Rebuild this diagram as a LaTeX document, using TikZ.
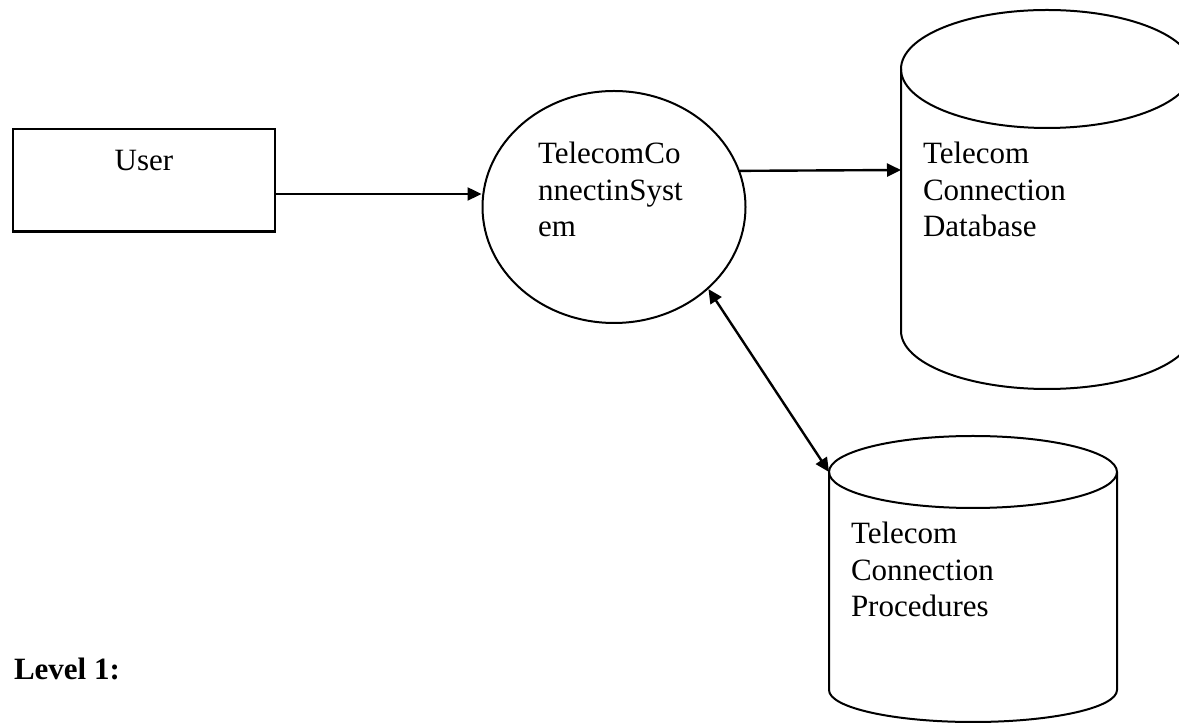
\documentclass[tikz,border=0pt]{standalone}
\usepackage{fontspec}
\setmainfont{Liberation Serif}
\usetikzlibrary{positioning}
\usetikzlibrary{arrows.meta}
\usetikzlibrary{shapes.geometric}

\begin{document}
\begin{tikzpicture}[x=0.5pt,y=0.5pt,line width=1pt,>={Triangle[length=7pt,width=6.5pt]},
	every node/.style={font=\fontsize{15.5}{18.25}\selectfont},
	txt/.style={inner sep=0pt,align=left,anchor=north west}]
		\useasboundingbox (0,0) rectangle (1179,723);
		\node (user) [draw, rectangle, line width=1.3pt, minimum width=131pt, minimum height=51.3pt] at (144,542.7) {};
		\node (usertxt) [anchor=base, inner sep=0pt] at (144,552) {User};
		\node (sys) [draw, ellipse, inner sep=0pt, minimum width=131.5pt, minimum height=116pt] at (614,516) {};
		\node (systxt) [txt] at (537,582) {TelecomCo\\nnectinSyst\\em};
		% database store
		\coordinate (db) at (1047,654);
		\draw (db) ellipse [x radius=73pt, y radius=29.5pt];
		\draw (901,654) -- (901,392) arc [start angle=180, end angle=360, x radius=73pt, y radius=29pt] -- (1193,654);
		\node (dbtxt) [txt] at (922,582) {Telecom\\Connection\\Database};
		\coordinate (dbin) at (901,553);
		% procedures store
		\coordinate (proc) at (973,251);
		\draw (proc) ellipse [x radius=72pt, y radius=18pt];
		\draw (829,251) -- (829,33) arc [start angle=180, end angle=360, x radius=72pt, y radius=16pt] -- (1117,251);
		\node (proctxt) [txt] at (850,202) {Telecom\\Connection\\Procedures};
		\coordinate (procin) at (829,251);
		\node (level) [anchor=base west, inner sep=0pt, font=\fontsize{15.5}{18.25}\selectfont\bfseries] at (13,43) {Level 1:};
		\draw[->, line width=1.2pt] ([yshift=-6.85pt]user.east) -- ([yshift=-6.85pt]user.east -| sys.west);
		\draw[->, line width=1.2pt] (sys.16.5) -- (dbin);
		\draw[<->, line width=1.2pt] (sys.-41.5) -- (procin);
\end{tikzpicture}
\end{document}
